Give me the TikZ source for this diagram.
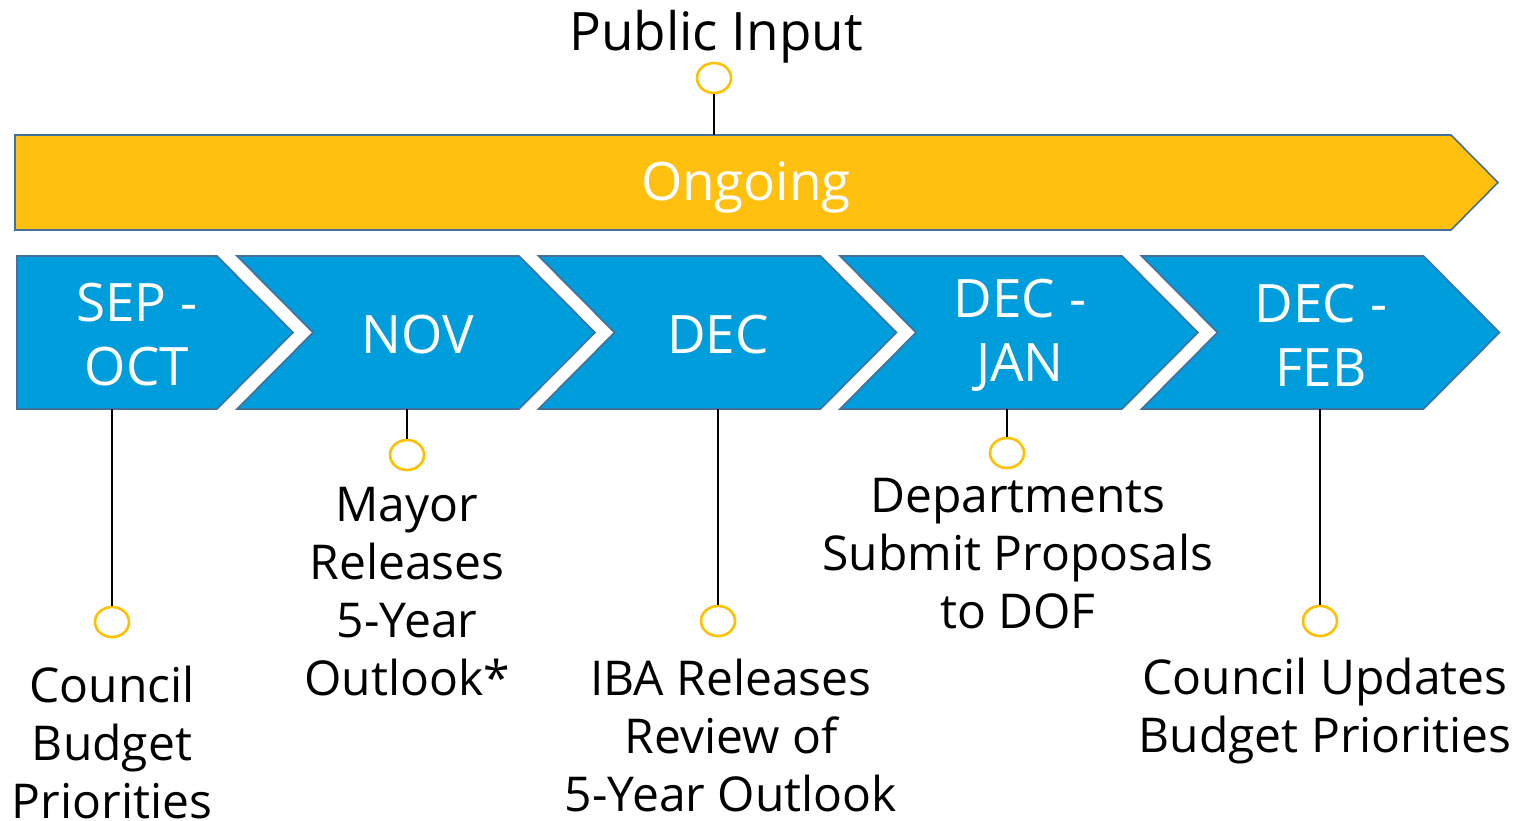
\documentclass[tikz,border=0pt]{standalone}
\usepackage{fontspec}
\setmainfont{Open Sans}
\usetikzlibrary{shapes.geometric}
\definecolor{cblue}{RGB}{0,157,220}
\definecolor{cgold}{RGB}{255,192,16}
\definecolor{cedge}{RGB}{65,113,156}
\definecolor{cring}{RGB}{255,192,0}
\begin{document}
\begin{tikzpicture}[x=1pt,y=-1pt,
  bar/.style={fill=cgold,draw=cedge,line width=1.6pt},
  band/.style={fill=cblue,draw=cedge,line width=1.6pt},
  ring/.style={ellipse,draw=cring,line width=2.6pt,minimum width=34pt,minimum height=30pt,inner sep=0pt},
  stem/.style={draw=black,line width=2pt},
  lbl/.style={align=center,font=\fontsize{48}{58}\selectfont,inner sep=0pt,text=black},
  mon/.style={align=center,font=\fontsize{53}{64}\selectfont,inner sep=0pt,text=white}]
\useasboundingbox (0,0) rectangle (1519,820);
% ongoing bar
\draw[bar] (15,135) -- (1451,135) -- (1498,182.5) -- (1451,230) -- (15,230) -- cycle;
\node[mon] (ongoing) at (746,187) {Ongoing};
% chevrons
\draw[band] (17,256) -- (217,256) -- (293,332.5) -- (217,409) -- (17,409) -- cycle;
\foreach \L in {237,538.5,840,1141.5}{
  \draw[band] (\L,256) -- (\L+282,256) -- (\L+358,332.5) -- (\L+282,409) -- (\L,409) -- (\L+76,332.5) -- cycle;
}
\node[mon] (m1) at (137,335) {SEP -\\OCT};
\node[mon] (m2) at (418,335) {NOV};
\node[mon] (m3) at (718,335) {DEC};
\node[mon] (m4) at (1020,335) {DEC -\\JAN};
\node[mon] (m5) at (1321,335) {DEC -\\FEB};
% anchor points
\coordinate (top) at (714,135);
\coordinate (b1) at (112,409);
\coordinate (b2) at (407,409);
\coordinate (b3) at (718,409);
\coordinate (b4) at (1007,409);
\coordinate (b5) at (1320,409);
% rings
\node[ring] (r0) at (714,78) {};
\node[ring] (r1) at (112,622) {};
\node[ring] (r2) at (407,455) {};
\node[ring] (r3) at (718,621) {};
\node[ring] (r4) at (1007,453) {};
\node[ring] (r5) at (1320,621) {};
% stems
\draw[stem] (r0.south) -- (top);
\draw[stem] (b1) -- (r1.north);
\draw[stem] (b2) -- (r2.north);
\draw[stem] (b3) -- (r3.north);
\draw[stem] (b4) -- (r4.north);
\draw[stem] (b5) -- (r5.north);
% labels
\node[lbl,font=\fontsize{53}{64}\selectfont] (t0) at (716,37) {Public Input};
\node[lbl] (t1) at (112,742) {Council\\Budget\\Priorities};
\node[lbl] (t2) at (407,592) {Mayor\\Releases\\5-Year\\Outlook*};
\node[lbl] (t3) at (731,735) {IBA Releases\\Review of\\5-Year Outlook};
\node[lbl] (t4) at (1018,554) {Departments\\Submit Proposals\\to DOF};
\node[lbl] (t5) at (1325,711) {Council Updates\\Budget Priorities};
\end{tikzpicture}
\end{document}
